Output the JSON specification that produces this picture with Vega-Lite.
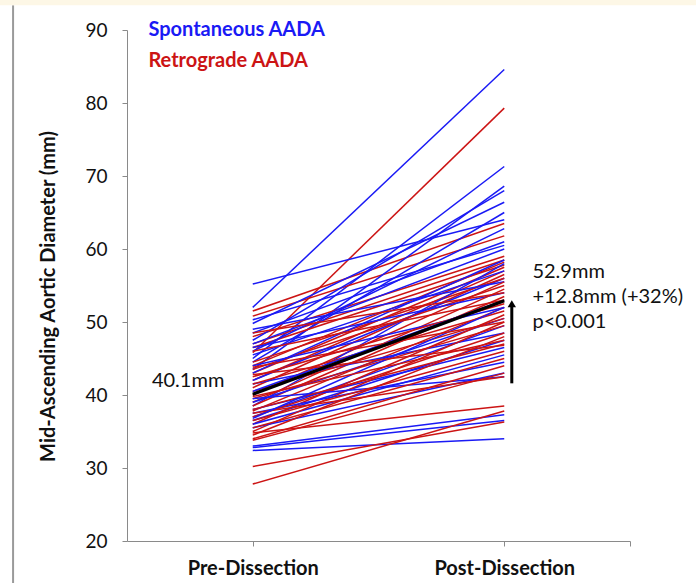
{
  "$schema": "https://vega.github.io/schema/vega-lite/v6.json",
  "width": 503,
  "height": 511,
  "autosize": "none",
  "padding": {"left": 127, "top": 30, "right": 66, "bottom": 42},
  "background": "white",
  "config": {
    "view": {"stroke": null},
    "font": "Lato",
    "axis": {"grid": false, "domainColor": "#8a8a8a", "tickColor": "#8a8a8a", "tickSize": 5, "labelFont": "Lato", "labelColor": "#111", "titleFont": "Lato", "titleColor": "#111"}
  },
  "datasets": {
    "patients": [
      {"id": "S1", "group": "Spontaneous AADA", "pre": 52.0, "post": 84.6},
      {"id": "R1", "group": "Retrograde AADA", "pre": 45.8, "post": 79.3},
      {"id": "S2", "group": "Spontaneous AADA", "pre": 55.2, "post": 64.0},
      {"id": "R2", "group": "Retrograde AADA", "pre": 51.5, "post": 63.5},
      {"id": "S3", "group": "Spontaneous AADA", "pre": 45.0, "post": 71.3},
      {"id": "R3", "group": "Retrograde AADA", "pre": 50.8, "post": 61.8},
      {"id": "S4", "group": "Spontaneous AADA", "pre": 43.5, "post": 68.6},
      {"id": "R4", "group": "Retrograde AADA", "pre": 48.0, "post": 59.0},
      {"id": "S5", "group": "Spontaneous AADA", "pre": 47.5, "post": 68.0},
      {"id": "R5", "group": "Retrograde AADA", "pre": 47.0, "post": 58.5},
      {"id": "S6", "group": "Spontaneous AADA", "pre": 49.8, "post": 66.4},
      {"id": "R6", "group": "Retrograde AADA", "pre": 44.0, "post": 58.2},
      {"id": "S7", "group": "Spontaneous AADA", "pre": 44.5, "post": 65.0},
      {"id": "R7", "group": "Retrograde AADA", "pre": 46.5, "post": 57.8},
      {"id": "S8", "group": "Spontaneous AADA", "pre": 46.0, "post": 62.8},
      {"id": "R8", "group": "Retrograde AADA", "pre": 43.0, "post": 57.5},
      {"id": "S9", "group": "Spontaneous AADA", "pre": 48.5, "post": 61.0},
      {"id": "R9", "group": "Retrograde AADA", "pre": 42.0, "post": 57.0},
      {"id": "S10", "group": "Spontaneous AADA", "pre": 50.3, "post": 60.5},
      {"id": "R10", "group": "Retrograde AADA", "pre": 41.0, "post": 56.5},
      {"id": "S11", "group": "Spontaneous AADA", "pre": 42.0, "post": 56.0},
      {"id": "R11", "group": "Retrograde AADA", "pre": 44.5, "post": 56.0},
      {"id": "S12", "group": "Spontaneous AADA", "pre": 49.0, "post": 55.5},
      {"id": "R12", "group": "Retrograde AADA", "pre": 40.0, "post": 55.5},
      {"id": "S13", "group": "Spontaneous AADA", "pre": 38.5, "post": 58.0},
      {"id": "R13", "group": "Retrograde AADA", "pre": 43.5, "post": 55.0},
      {"id": "S14", "group": "Spontaneous AADA", "pre": 46.5, "post": 54.0},
      {"id": "R14", "group": "Retrograde AADA", "pre": 39.0, "post": 54.5},
      {"id": "S15", "group": "Spontaneous AADA", "pre": 44.0, "post": 52.0},
      {"id": "R15", "group": "Retrograde AADA", "pre": 38.5, "post": 53.5},
      {"id": "S16", "group": "Spontaneous AADA", "pre": 39.0, "post": 50.5},
      {"id": "R16", "group": "Retrograde AADA", "pre": 42.5, "post": 52.5},
      {"id": "S17", "group": "Spontaneous AADA", "pre": 37.0, "post": 49.5},
      {"id": "R17", "group": "Retrograde AADA", "pre": 37.8, "post": 52.0},
      {"id": "S18", "group": "Spontaneous AADA", "pre": 41.5, "post": 48.5},
      {"id": "R18", "group": "Retrograde AADA", "pre": 41.5, "post": 51.5},
      {"id": "S19", "group": "Spontaneous AADA", "pre": 36.5, "post": 47.5},
      {"id": "R19", "group": "Retrograde AADA", "pre": 36.0, "post": 51.0},
      {"id": "S20", "group": "Spontaneous AADA", "pre": 38.0, "post": 46.5},
      {"id": "R20", "group": "Retrograde AADA", "pre": 40.5, "post": 50.5},
      {"id": "S21", "group": "Spontaneous AADA", "pre": 36.0, "post": 45.5},
      {"id": "R21", "group": "Retrograde AADA", "pre": 35.0, "post": 50.0},
      {"id": "S22", "group": "Spontaneous AADA", "pre": 37.5, "post": 44.5},
      {"id": "R22", "group": "Retrograde AADA", "pre": 39.5, "post": 49.5},
      {"id": "S23", "group": "Spontaneous AADA", "pre": 35.5, "post": 43.0},
      {"id": "R23", "group": "Retrograde AADA", "pre": 37.0, "post": 48.5},
      {"id": "S24", "group": "Spontaneous AADA", "pre": 39.5, "post": 42.5},
      {"id": "R24", "group": "Retrograde AADA", "pre": 34.5, "post": 48.0},
      {"id": "S25", "group": "Spontaneous AADA", "pre": 33.0, "post": 37.3},
      {"id": "R25", "group": "Retrograde AADA", "pre": 38.0, "post": 47.0},
      {"id": "S26", "group": "Spontaneous AADA", "pre": 32.4, "post": 34.0},
      {"id": "R26", "group": "Retrograde AADA", "pre": 36.5, "post": 46.0},
      {"id": "S27", "group": "Spontaneous AADA", "pre": 32.8, "post": 36.5},
      {"id": "R27", "group": "Retrograde AADA", "pre": 35.5, "post": 45.0},
      {"id": "S28", "group": "Spontaneous AADA", "pre": 43.0, "post": 58.5},
      {"id": "R28", "group": "Retrograde AADA", "pre": 34.0, "post": 44.0},
      {"id": "S29", "group": "Spontaneous AADA", "pre": 47.0, "post": 60.0},
      {"id": "R29", "group": "Retrograde AADA", "pre": 33.8, "post": 43.0},
      {"id": "S30", "group": "Spontaneous AADA", "pre": 40.5, "post": 53.0},
      {"id": "R30", "group": "Retrograde AADA", "pre": 37.5, "post": 42.5},
      {"id": "S31", "group": "Spontaneous AADA", "pre": 36.8, "post": 52.0},
      {"id": "R31", "group": "Retrograde AADA", "pre": 34.8, "post": 38.5},
      {"id": "S32", "group": "Spontaneous AADA", "pre": 45.5, "post": 57.0},
      {"id": "R32", "group": "Retrograde AADA", "pre": 27.8, "post": 37.8},
      {"id": "R33", "group": "Retrograde AADA", "pre": 30.2, "post": 36.3},
      {"id": "R34", "group": "Retrograde AADA", "pre": 48.5, "post": 54.0},
      {"id": "R35", "group": "Retrograde AADA", "pre": 46.0, "post": 53.0},
      {"id": "R36", "group": "Retrograde AADA", "pre": 43.8, "post": 50.0},
      {"id": "R37", "group": "Retrograde AADA", "pre": 39.8, "post": 47.5},
      {"id": "R38", "group": "Retrograde AADA", "pre": 42.8, "post": 46.8}
    ],
    "mean": [{"pre": 40.1, "post": 52.9}]
  },
  "layer": [
    {
      "data": {"values": [{}]},
      "mark": {"type": "rule", "color": "#9a9a9a", "strokeWidth": 2},
      "encoding": {"x": {"datum": 0.047}, "y": {"datum": 93.4}, "y2": {"datum": 14.2}}
    },
    {
      "data": {"values": [{}]},
      "mark": {"type": "rect", "color": "#fdf7e6"},
      "encoding": {"x": {"datum": -0.01}, "x2": {"datum": 2.77}, "y": {"datum": 93.4}, "y2": {"datum": 94.2}}
    },
    {
      "data": {"name": "patients"},
      "mark": {"type": "rule", "strokeWidth": 1.5},
      "encoding": {
        "x": {"datum": 1, "type": "quantitative", "scale": {"domain": [0.5, 2.5], "nice": false, "zero": false},
          "axis": {"values": [1, 2, 2.5], "labelExpr": "datum.value == 1 ? 'Pre-Dissection' : datum.value == 2 ? 'Post-Dissection' : ''", "labelFontWeight": "bold", "labelFontSize": 20, "labelPadding": 12, "title": null, "labelFlush": false}},
        "x2": {"datum": 2},
        "y": {"field": "pre", "type": "quantitative", "scale": {"domain": [20, 90], "nice": false, "zero": false},
          "axis": {"values": [20, 30, 40, 50, 60, 70, 80, 90], "labelFontSize": 19, "labelPadding": 15, "title": "Mid-Ascending Aortic Diameter (mm)", "titleFontSize": 20, "titleFontWeight": "bold", "titlePadding": 26, "titleY": 266}},
        "y2": {"field": "post"},
        "color": {"field": "group", "type": "nominal", "scale": {"domain": ["Spontaneous AADA", "Retrograde AADA"], "range": ["#1a1af5", "#cc1414"]}, "legend": null}
      }
    },
    {
      "data": {"name": "mean"},
      "mark": {"type": "rule", "strokeWidth": 3.2, "color": "black"},
      "encoding": {"x": {"datum": 1}, "x2": {"datum": 2}, "y": {"field": "pre", "type": "quantitative"}, "y2": {"field": "post"}}
    },
    {
      "data": {"values": [{}]},
      "mark": {"type": "rule", "strokeWidth": 3, "color": "black"},
      "encoding": {"x": {"datum": 2.03}, "y": {"datum": 41.6}, "y2": {"datum": 52.2}}
    },
    {
      "data": {"values": [{}]},
      "mark": {"type": "point", "shape": "triangle-up", "filled": true, "color": "black", "size": 70, "opacity": 1},
      "encoding": {"x": {"datum": 2.03}, "y": {"datum": 52.5}}
    },
    {
      "data": {"values": [{"t": "40.1mm"}]},
      "mark": {"type": "text", "fontSize": 20, "color": "#111", "align": "center", "baseline": "middle"},
      "encoding": {"x": {"datum": 0.743}, "y": {"datum": 41.9}, "text": {"field": "t"}}
    },
    {
      "data": {"values": [{"t": "52.9mm", "row": 56.85}, {"t": "+12.8mm (+32%)", "row": 53.4}, {"t": "p<0.001", "row": 50.0}]},
      "mark": {"type": "text", "fontSize": 20, "color": "#111", "align": "left", "baseline": "middle"},
      "encoding": {"x": {"datum": 2.112}, "y": {"field": "row", "type": "quantitative"}, "text": {"field": "t"}}
    },
    {
      "data": {"values": [{"t": "Spontaneous AADA", "row": 90.0, "group": "Spontaneous AADA"}, {"t": "Retrograde AADA", "row": 85.7, "group": "Retrograde AADA"}]},
      "mark": {"type": "text", "fontSize": 20, "fontWeight": "bold", "align": "left", "baseline": "middle"},
      "encoding": {"x": {"datum": 0.585}, "y": {"field": "row", "type": "quantitative"}, "text": {"field": "t"}, "color": {"field": "group", "type": "nominal", "legend": null}}
    }
  ]
}
